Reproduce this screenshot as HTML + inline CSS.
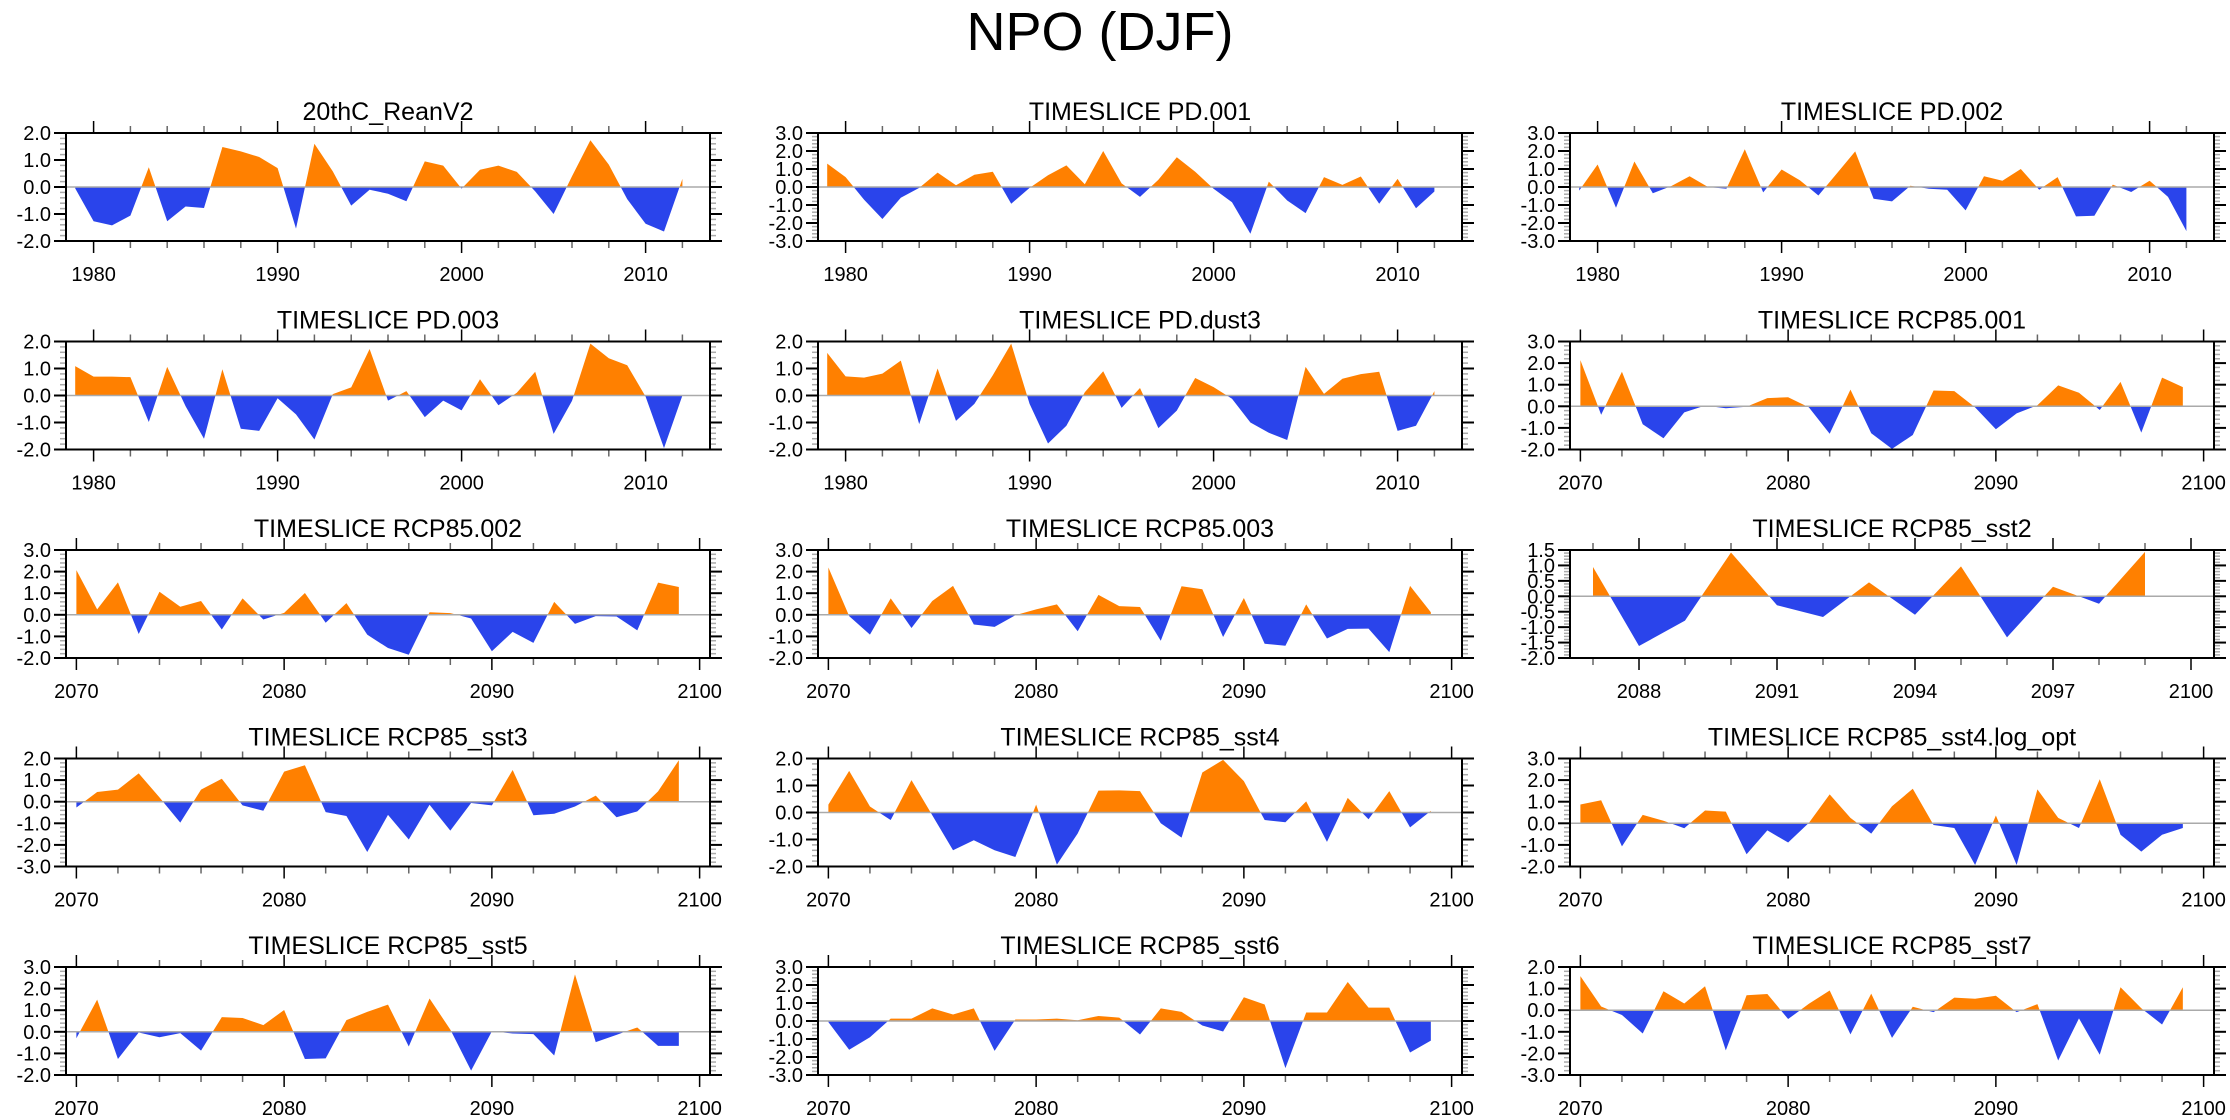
<!DOCTYPE html>
<html><head><meta charset="utf-8"><title>NPO (DJF)</title>
<style>
html,body{margin:0;padding:0;background:#fff;}
svg{display:block;font-family:"Liberation Sans",Arial,sans-serif;}
</style></head>
<body>
<svg id="fig" width="2230" height="1120" viewBox="0 0 2230 1120">
<text x="1100" y="50" font-size="54" text-anchor="middle" fill="#000">NPO (DJF)</text>
</svg>
<script>
const titles = ["20thC_ReanV2","TIMESLICE PD.001","TIMESLICE PD.002","TIMESLICE PD.003","TIMESLICE PD.dust3","TIMESLICE RCP85.001","TIMESLICE RCP85.002","TIMESLICE RCP85.003","TIMESLICE RCP85_sst2","TIMESLICE RCP85_sst3","TIMESLICE RCP85_sst4","TIMESLICE RCP85_sst4.log_opt","TIMESLICE RCP85_sst5","TIMESLICE RCP85_sst6","TIMESLICE RCP85_sst7"];
const startYears = [1979,1979,1979,1979,1979,2070,2070,2070,2087,2070,2070,2070,2070,2070,2070];
const yMins = [-2,-3,-3,-2,-2,-2,-2,-2,-2,-3,-2,-2,-2,-3,-3];
const yMaxs = [2,3,3,2,2,3,3,3,1.5,2,2,3,3,3,2];
const yTickSteps = [1,1,1,1,1,1,1,1,0.5,1,1,1,1,1,1];
const s0 = [-0.05,-1.27,-1.42,-1.06,0.73,-1.27,-0.72,-0.78,1.48,1.32,1.11,0.7,-1.54,1.6,0.58,-0.69,-0.1,-0.25,-0.53,0.95,0.79,-0.06,0.64,0.79,0.56,-0.16,-1.0,0.4,1.73,0.83,-0.45,-1.36,-1.65,0.3];
const s1 = [1.3,0.55,-0.7,-1.78,-0.6,-0.05,0.8,0.1,0.68,0.85,-0.93,-0.05,0.65,1.2,0.15,2.0,0.2,-0.55,0.4,1.65,0.85,-0.1,-0.85,-2.6,0.3,-0.75,-1.45,0.55,0.12,0.58,-0.93,0.45,-1.18,-0.25];
const s2 = [-0.2,1.25,-1.15,1.42,-0.35,0.05,0.6,0.0,-0.1,2.1,-0.3,0.97,0.37,-0.47,0.75,1.98,-0.65,-0.8,0.07,-0.1,-0.15,-1.3,0.6,0.35,1.0,-0.15,0.55,-1.63,-1.6,0.13,-0.28,0.35,-0.55,-2.45];
const s3 = [1.09,0.7,0.7,0.68,-0.98,1.06,-0.4,-1.6,0.97,-1.23,-1.31,-0.1,-0.7,-1.63,0.05,0.3,1.72,-0.19,0.16,-0.8,-0.19,-0.55,0.6,-0.36,0.1,0.88,-1.42,-0.2,1.92,1.38,1.12,-0.04,-1.95,0.0];
const s4 = [1.58,0.71,0.66,0.81,1.29,-1.06,1.0,-0.94,-0.31,0.75,1.92,-0.31,-1.78,-1.12,0.12,0.9,-0.46,0.28,-1.21,-0.56,0.65,0.31,-0.12,-1.0,-1.38,-1.65,1.06,0.06,0.62,0.79,0.88,-1.31,-1.12,0.16];
const s5 = [2.14,-0.39,1.6,-0.83,-1.48,-0.28,0.03,-0.09,-0.02,0.38,0.42,-0.05,-1.27,0.77,-1.25,-1.97,-1.33,0.73,0.7,-0.05,-1.06,-0.33,0.05,0.97,0.63,-0.17,1.13,-1.22,1.33,0.89];
const s6 = [2.07,0.25,1.5,-0.89,1.07,0.37,0.64,-0.68,0.76,-0.22,0.09,1.01,-0.37,0.54,-0.92,-1.54,-1.85,0.12,0.08,-0.17,-1.69,-0.79,-1.3,0.6,-0.42,-0.06,-0.08,-0.72,1.49,1.29];
const s7 = [2.19,-0.06,-0.92,0.76,-0.61,0.64,1.34,-0.45,-0.56,-0.02,0.25,0.48,-0.76,0.92,0.4,0.36,-1.2,1.32,1.18,-1.03,0.78,-1.34,-1.43,0.48,-1.1,-0.65,-0.64,-1.73,1.34,0.12];
const s8 = [0.95,-1.61,-0.79,1.42,-0.29,-0.67,0.45,-0.6,0.97,-1.33,0.31,-0.24,1.44];
const s9 = [-0.27,0.45,0.56,1.31,0.2,-0.97,0.56,1.06,-0.17,-0.42,1.39,1.69,-0.48,-0.66,-2.33,-0.61,-1.75,-0.14,-1.34,-0.06,-0.17,1.47,-0.63,-0.56,-0.22,0.28,-0.72,-0.45,0.48,1.92];
const s10 = [0.29,1.54,0.22,-0.28,1.2,-0.1,-1.4,-1.03,-1.4,-1.65,0.29,-1.93,-0.78,0.81,0.82,0.79,-0.4,-0.93,1.48,1.95,1.16,-0.28,-0.36,0.41,-1.09,0.54,-0.25,0.79,-0.55,0.06];
const s11 = [0.87,1.07,-1.07,0.39,0.12,-0.23,0.59,0.54,-1.43,-0.33,-0.89,0.02,1.34,0.25,-0.48,0.79,1.6,-0.08,-0.22,-1.93,0.36,-1.93,1.57,0.25,-0.22,2.04,-0.53,-1.31,-0.53,-0.22];
const s12 = [-0.3,1.49,-1.26,-0.03,-0.25,-0.06,-0.87,0.68,0.64,0.31,1.01,-1.26,-1.23,0.54,0.92,1.26,-0.68,1.54,0.1,-1.8,0.02,-0.08,-0.11,-1.1,2.66,-0.48,-0.14,0.2,-0.65,-0.65];
const s13 = [-0.06,-1.6,-0.9,0.13,0.13,0.7,0.36,0.7,-1.66,0.08,0.08,0.13,0.04,0.28,0.19,-0.75,0.7,0.51,-0.25,-0.58,1.32,0.92,-2.62,0.47,0.47,2.17,0.74,0.74,-1.75,-1.09];
const s14 = [1.58,0.17,-0.22,-1.08,0.88,0.31,1.11,-1.86,0.69,0.75,-0.41,0.3,0.91,-1.12,0.77,-1.28,0.16,-0.09,0.58,0.53,0.67,-0.09,0.28,-2.33,-0.38,-2.06,1.06,0.09,-0.66,1.06];
const seriesList = [s0,s1,s2,s3,s4,s5,s6,s7,s8,s9,s10,s11,s12,s13,s14];

const NS = "http://www.w3.org/2000/svg";
const svg = document.getElementById("fig");
const colLefts = [66, 818, 1570];
const rowTops = [133, 341.5, 550, 758.5, 967];
const W = 644, H = 108;
const ORANGE = "#ff8000", BLUE = "#2a44eb";

function mk(tag, attrs, parent){
  const e = document.createElementNS(NS, tag);
  for (const k in attrs) e.setAttribute(k, attrs[k]);
  (parent||svg).appendChild(e);
  return e;
}
function fmt(v){ return v.toFixed(1); }

seriesList.forEach((vals, p) => {
  const L = colLefts[p % 3], T = rowTops[Math.floor(p / 3)];
  const y0 = startYears[p];
  const isPD = y0 < 2000, isShort = y0 === 2087;
  const xMin = isPD ? 1978.5 : (isShort ? 2086.5 : 2069.5);
  const xMax = isPD ? 2013.5 : 2100.5;
  const yMin = yMins[p], yMax = yMaxs[p];
  const xs = v => L + (v - xMin) / (xMax - xMin) * W;
  const ys = v => T + (yMax - v) / (yMax - yMin) * H;

  const g = mk("g", {});
  
  

  const title = mk("text", {x: L + W / 2, y: T - 13, "font-size": 25, "text-anchor": "middle", fill: "#000"}, g);
  title.textContent = titles[p];
  
  

  const pts = [];
  for (let i = 0; i < vals.length; i++) {
    const x = y0 + i, v = vals[i];
    if (i > 0) {
      const pv = vals[i - 1];
      if ((pv > 0 && v < 0) || (pv < 0 && v > 0)) {
        const t = pv / (pv - v);
        pts.push([x - 1 + t, 0]);
      }
    }
    pts.push([x, v]);
  }
  const first = pts[0][0], last = pts[pts.length - 1][0];
  let posD = "M" + xs(first) + "," + ys(0);
  let negD = "M" + xs(first) + "," + ys(0);
  pts.forEach(pt => {
    posD += " L" + xs(pt[0]).toFixed(2) + "," + ys(Math.max(pt[1], 0)).toFixed(2);
    negD += " L" + xs(pt[0]).toFixed(2) + "," + ys(Math.min(pt[1], 0)).toFixed(2);
  });
  posD += " L" + xs(last) + "," + ys(0) + " Z";
  negD += " L" + xs(last) + "," + ys(0) + " Z";
  const pos = mk("path", {d: posD, fill: ORANGE}, g);
  
  
  const neg = mk("path", {d: negD, fill: BLUE}, g);
  
  

  const zl = mk("line", {x1: L, x2: L + W, y1: ys(0), y2: ys(0), stroke: "#aaaaaa", "stroke-width": 1.5}, g);
  
  

  const step = yTickSteps[p], minor = step / 5;
  for (let v = yMin; v <= yMax + 1e-6; v += minor) {
    const vv = Math.round(v * 100) / 100;
    const major = Math.abs(vv / step - Math.round(vv / step)) < 1e-6;
    const len = major ? 12 : 6;
    const col = major ? "#000" : "#aaa";
    mk("line", {x1: L - len, x2: L, y1: ys(vv), y2: ys(vv), stroke: col, "stroke-width": major ? 2 : 1.5}, g);
    mk("line", {x1: L + W, x2: L + W + len, y1: ys(vv), y2: ys(vv), stroke: col, "stroke-width": major ? 2 : 1.5}, g);
    if (major) {
      const t = mk("text", {x: L - 15, y: ys(vv) + 7, "font-size": 20, "text-anchor": "end", fill: "#000"}, g);
      t.textContent = fmt(vv);
      
      
    }
  }
  const majStep = isShort ? 3 : 10, minStep = isShort ? 1 : 2;
  const majStart = isPD ? 1980 : (isShort ? 2088 : 2070);
  for (let yr = Math.ceil(xMin); yr <= xMax; yr++) {
    const isMaj = (yr - majStart) % majStep === 0 && yr >= majStart;
    const isMin = (yr % minStep === 0) || isShort;
    if (!isMaj && !isMin) continue;
    const len = isMaj ? 12 : 7;
    const col = isMaj ? "#000" : "#666";
    mk("line", {x1: xs(yr), x2: xs(yr), y1: T - len, y2: T, stroke: col, "stroke-width": 1.5}, g);
    mk("line", {x1: xs(yr), x2: xs(yr), y1: T + H, y2: T + H + len, stroke: col, "stroke-width": 1.5}, g);
    if (isMaj) {
      const t = mk("text", {x: xs(yr), y: T + H + 40, "font-size": 20, "text-anchor": "middle", fill: "#000"}, g);
      t.textContent = String(yr);
      
      
    }
  }
  const box = mk("rect", {x: L, y: T, width: W, height: H, fill: "none", stroke: "#000", "stroke-width": 2}, g);
  
  
});
</script>
</body></html>
